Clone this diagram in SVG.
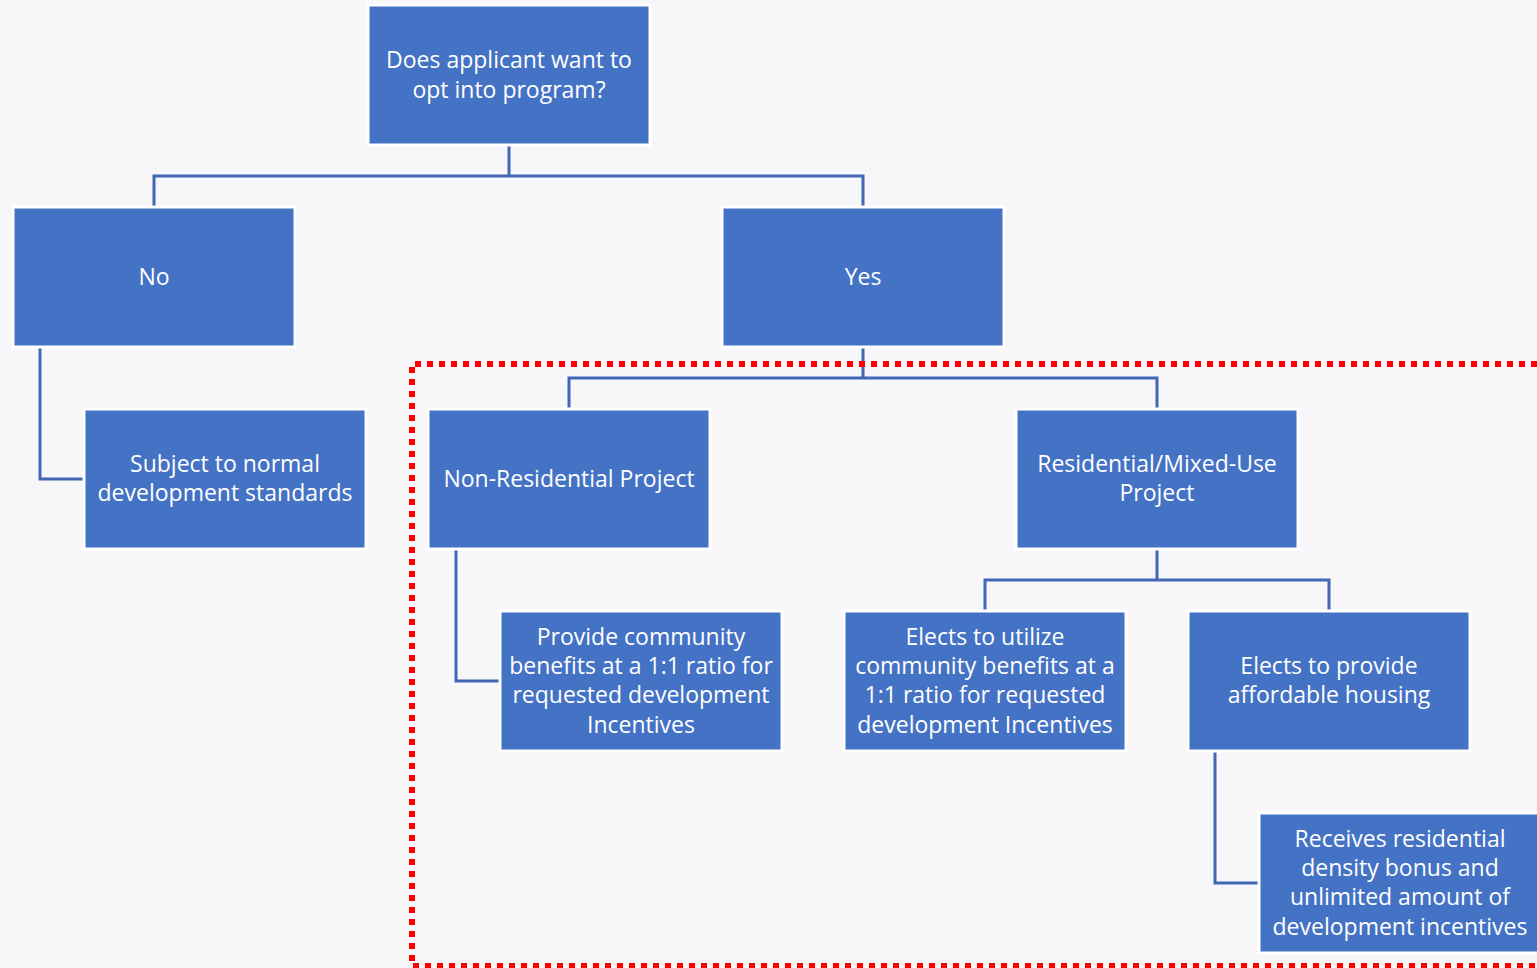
<svg xmlns="http://www.w3.org/2000/svg" width="1537" height="968" viewBox="0 0 1537 968">
<style>
.box{fill:#4472C4;stroke:#FFFFFF;stroke-width:3}
.t{fill:#FFFFFF;font-family:"Open Sans","Liberation Sans",sans-serif;font-size:23px;text-anchor:middle}
.c{fill:none;stroke:#4066B4;stroke-width:3}
.dot{fill:none;stroke:#FF0000;stroke-width:6;stroke-dasharray:6 6}
</style>
<rect x="0" y="0" width="1537" height="968" fill="#F7F7FA"/>
<g id="connectors">
<path class="c" d="M509 146V176M154 207V176H863V207"/>
<path class="c" d="M40 348V479H84"/>
<path class="c" d="M863 348V378M569 409V378H1157V409"/>
<path class="c" d="M456 550V681H500"/>
<path class="c" d="M1157 550V580M985 611V580H1329V611"/>
<path class="c" d="M1215 752V883H1259"/>
</g>
<path id="boundary" class="dot" d="M1537 364H412V966H1537"/>
<g id="n-opt"><rect class="box" x="368" y="5" width="282" height="140"/><text class="t" x="509" y="68">Does applicant want to</text><text class="t" x="509" y="98">opt into program?</text></g>
<g id="n-no"><rect class="box" x="13" y="207" width="282" height="140"/><text class="t" x="154" y="285">No</text></g>
<g id="n-yes"><rect class="box" x="722" y="207" width="282" height="140"/><text class="t" x="863" y="285">Yes</text></g>
<g id="n-normal"><rect class="box" x="84" y="409" width="282" height="140"/><text class="t" x="225" y="472">Subject to normal</text><text class="t" x="225" y="501">development standards</text></g>
<g id="n-nonres"><rect class="box" x="428" y="409" width="282" height="140"/><text class="t" x="569" y="487">Non-Residential Project</text></g>
<g id="n-res"><rect class="box" x="1016" y="409" width="282" height="140"/><text class="t" x="1157" y="472">Residential/Mixed-Use</text><text class="t" x="1157" y="501">Project</text></g>
<g id="n-provide"><rect class="box" x="500" y="611" width="282" height="140"/><text class="t" x="641" y="645">Provide community</text><text class="t" x="641" y="674">benefits at a 1:1 ratio for</text><text class="t" x="641" y="703">requested development</text><text class="t" x="641" y="733">Incentives</text></g>
<g id="n-utilize"><rect class="box" x="844" y="611" width="282" height="140"/><text class="t" x="985" y="645">Elects to utilize</text><text class="t" x="985" y="674">community benefits at a</text><text class="t" x="985" y="703">1:1 ratio for requested</text><text class="t" x="985" y="733">development Incentives</text></g>
<g id="n-afford"><rect class="box" x="1188" y="611" width="282" height="140"/><text class="t" x="1329" y="674">Elects to provide</text><text class="t" x="1329" y="703">affordable housing</text></g>
<g id="n-receives"><rect class="box" x="1259" y="813" width="282" height="140"/><text class="t" x="1400" y="847">Receives residential</text><text class="t" x="1400" y="876">density bonus and</text><text class="t" x="1400" y="905">unlimited amount of</text><text class="t" x="1400" y="935">development incentives</text></g>
</svg>
